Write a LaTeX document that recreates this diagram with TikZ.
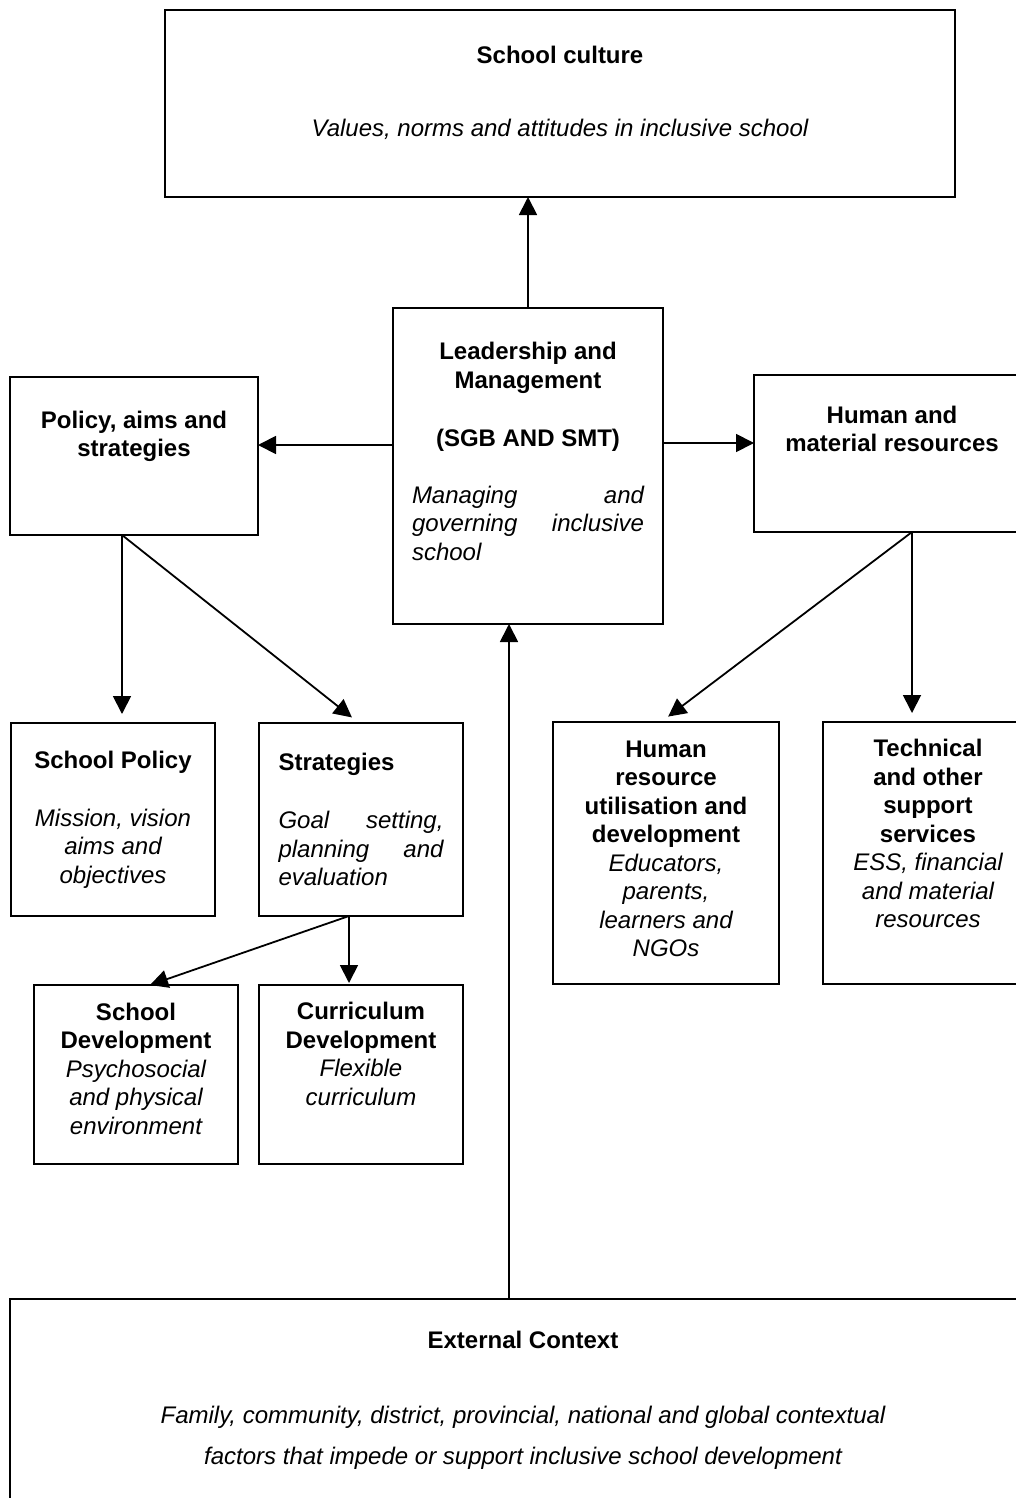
\documentclass[tikz,border=0pt]{standalone}
\usepackage{fontspec}
\setmainfont{Liberation Sans}
\usetikzlibrary{arrows.meta, positioning}
\newcommand{\desc}[1]{{\mdseries\itshape #1}}
\tikzset{
  box/.style={draw, line width=1.8pt, align=center, inner sep=0pt, outer sep=0pt},
  arr/.style={line width=1.8pt, -{Triangle[length=18pt,width=18pt]}},
}
\begin{document}
\begin{tikzpicture}[x=1pt, y=-1pt, font=\fontsize{24}{28.5}\selectfont\bfseries]
      \path[use as bounding box, fill=white] (0,0) rectangle (1016,1498);
      \clip (0,0) rectangle (1016,1498);
      \node[box, minimum width=790pt, minimum height=187pt] (C) at (560,103.5)
        {School culture\\[44pt]\desc{Values, norms and attitudes in inclusive school}\rule[-24pt]{0pt}{24pt}};
      \node[box, minimum width=270pt, minimum height=316pt] (L) at (528,466)
        {Leadership and\\Management\\[30pt](SGB AND SMT)\\[28pt]\makebox[232pt][s]{\desc{Managing and}}\\
         \makebox[232pt][s]{\desc{governing inclusive}}\\\makebox[232pt][l]{\desc{school}}\rule[-29pt]{0pt}{29pt}};
      \node[box, minimum width=248pt, minimum height=158pt] (P) at (134,456)
        {Policy, aims and\\strategies\rule[-44pt]{0pt}{44pt}};
      \node[box, minimum width=276pt, minimum height=157pt] (H) at (892,453.5)
        {Human and\\material resources\rule[-49pt]{0pt}{49pt}};
      \node[box, minimum width=204pt, minimum height=193pt] (P1) at (113,819.5)
        {School Policy\\[29.5pt]\desc{Mission, vision}\\\desc{aims and}\\\desc{objectives}};
      \node[box, minimum width=204pt, minimum height=193pt] (P2)[right=44pt of P1]
        {\makebox[165pt][l]{Strategies}\\[30pt]\makebox[165pt][s]{\desc{Goal setting,}}\\
         \makebox[165pt][s]{\desc{planning and}}\\\makebox[165pt][l]{\desc{evaluation}}};
      \node[box, minimum width=204pt, minimum height=179pt] (S2)[below=69pt of P2]
        {Curriculum\\Development\\\desc{Flexible}\\\desc{curriculum}\rule[-41pt]{0pt}{41pt}};
      \node[box, minimum width=204pt, minimum height=179pt] (S1)[left=21pt of S2]
        {School\\Development\\\desc{Psychosocial}\\\desc{and physical}\\\desc{environment}\rule[-12pt]{0pt}{12pt}};
      \node[box, minimum width=226pt, minimum height=262pt] (H1) at (666,853)
        {Human\\resource\\utilisation and\\development\\\desc{Educators,}\\\desc{parents,}\\
         \desc{learners and}\\\desc{NGOs}\rule[-9pt]{0pt}{9pt}};
      \node[box, minimum width=210pt, minimum height=262pt] (H2)[right=44pt of H1]
        {Technical\\and other\\support\\services\\\desc{ESS, financial}\\\desc{and material}\\
         \desc{resources}\rule[-39pt]{0pt}{39pt}};
      \node[box, minimum width=1026pt, minimum height=231pt] (E) at (523,1414.5)
        {External Context\\[46.5pt]\desc{Family, community, district, provincial, national and global contextual}\\[12.5pt]
         \desc{factors that impede or support inclusive school development}\rule[-33pt]{0pt}{33pt}};
      \draw[arr] (L.north) -- (L.north |- C.south);
      \draw[arr] ([yshift=21pt]L.west) -- ([yshift=11pt]P.east);
      \draw[arr] ([yshift=23pt]L.east) -- ([yshift=10.5pt]H.west);
      \draw ([xshift=-12pt]P.south) edge[arr, shorten >=9pt] ([xshift=9pt]P1.north)
        edge[arr, shorten >=9pt] ([xshift=-2pt]P2.north);
      \draw ([xshift=20pt]H.south) edge[arr, shorten >=9pt] ([xshift=-5pt]H1.north)
        edge[arr, shorten >=9pt] ([xshift=-16pt]H2.north);
      \draw ([xshift=-12pt]P2.south) edge[arr, shorten >=2pt] ([xshift=-12pt]S2.north)
        edge[arr] ([xshift=14pt]S1.north);
      \draw[arr] ([xshift=-14pt]E.north) -- ([xshift=-19pt]L.south);
    \end{tikzpicture}
\end{document}
